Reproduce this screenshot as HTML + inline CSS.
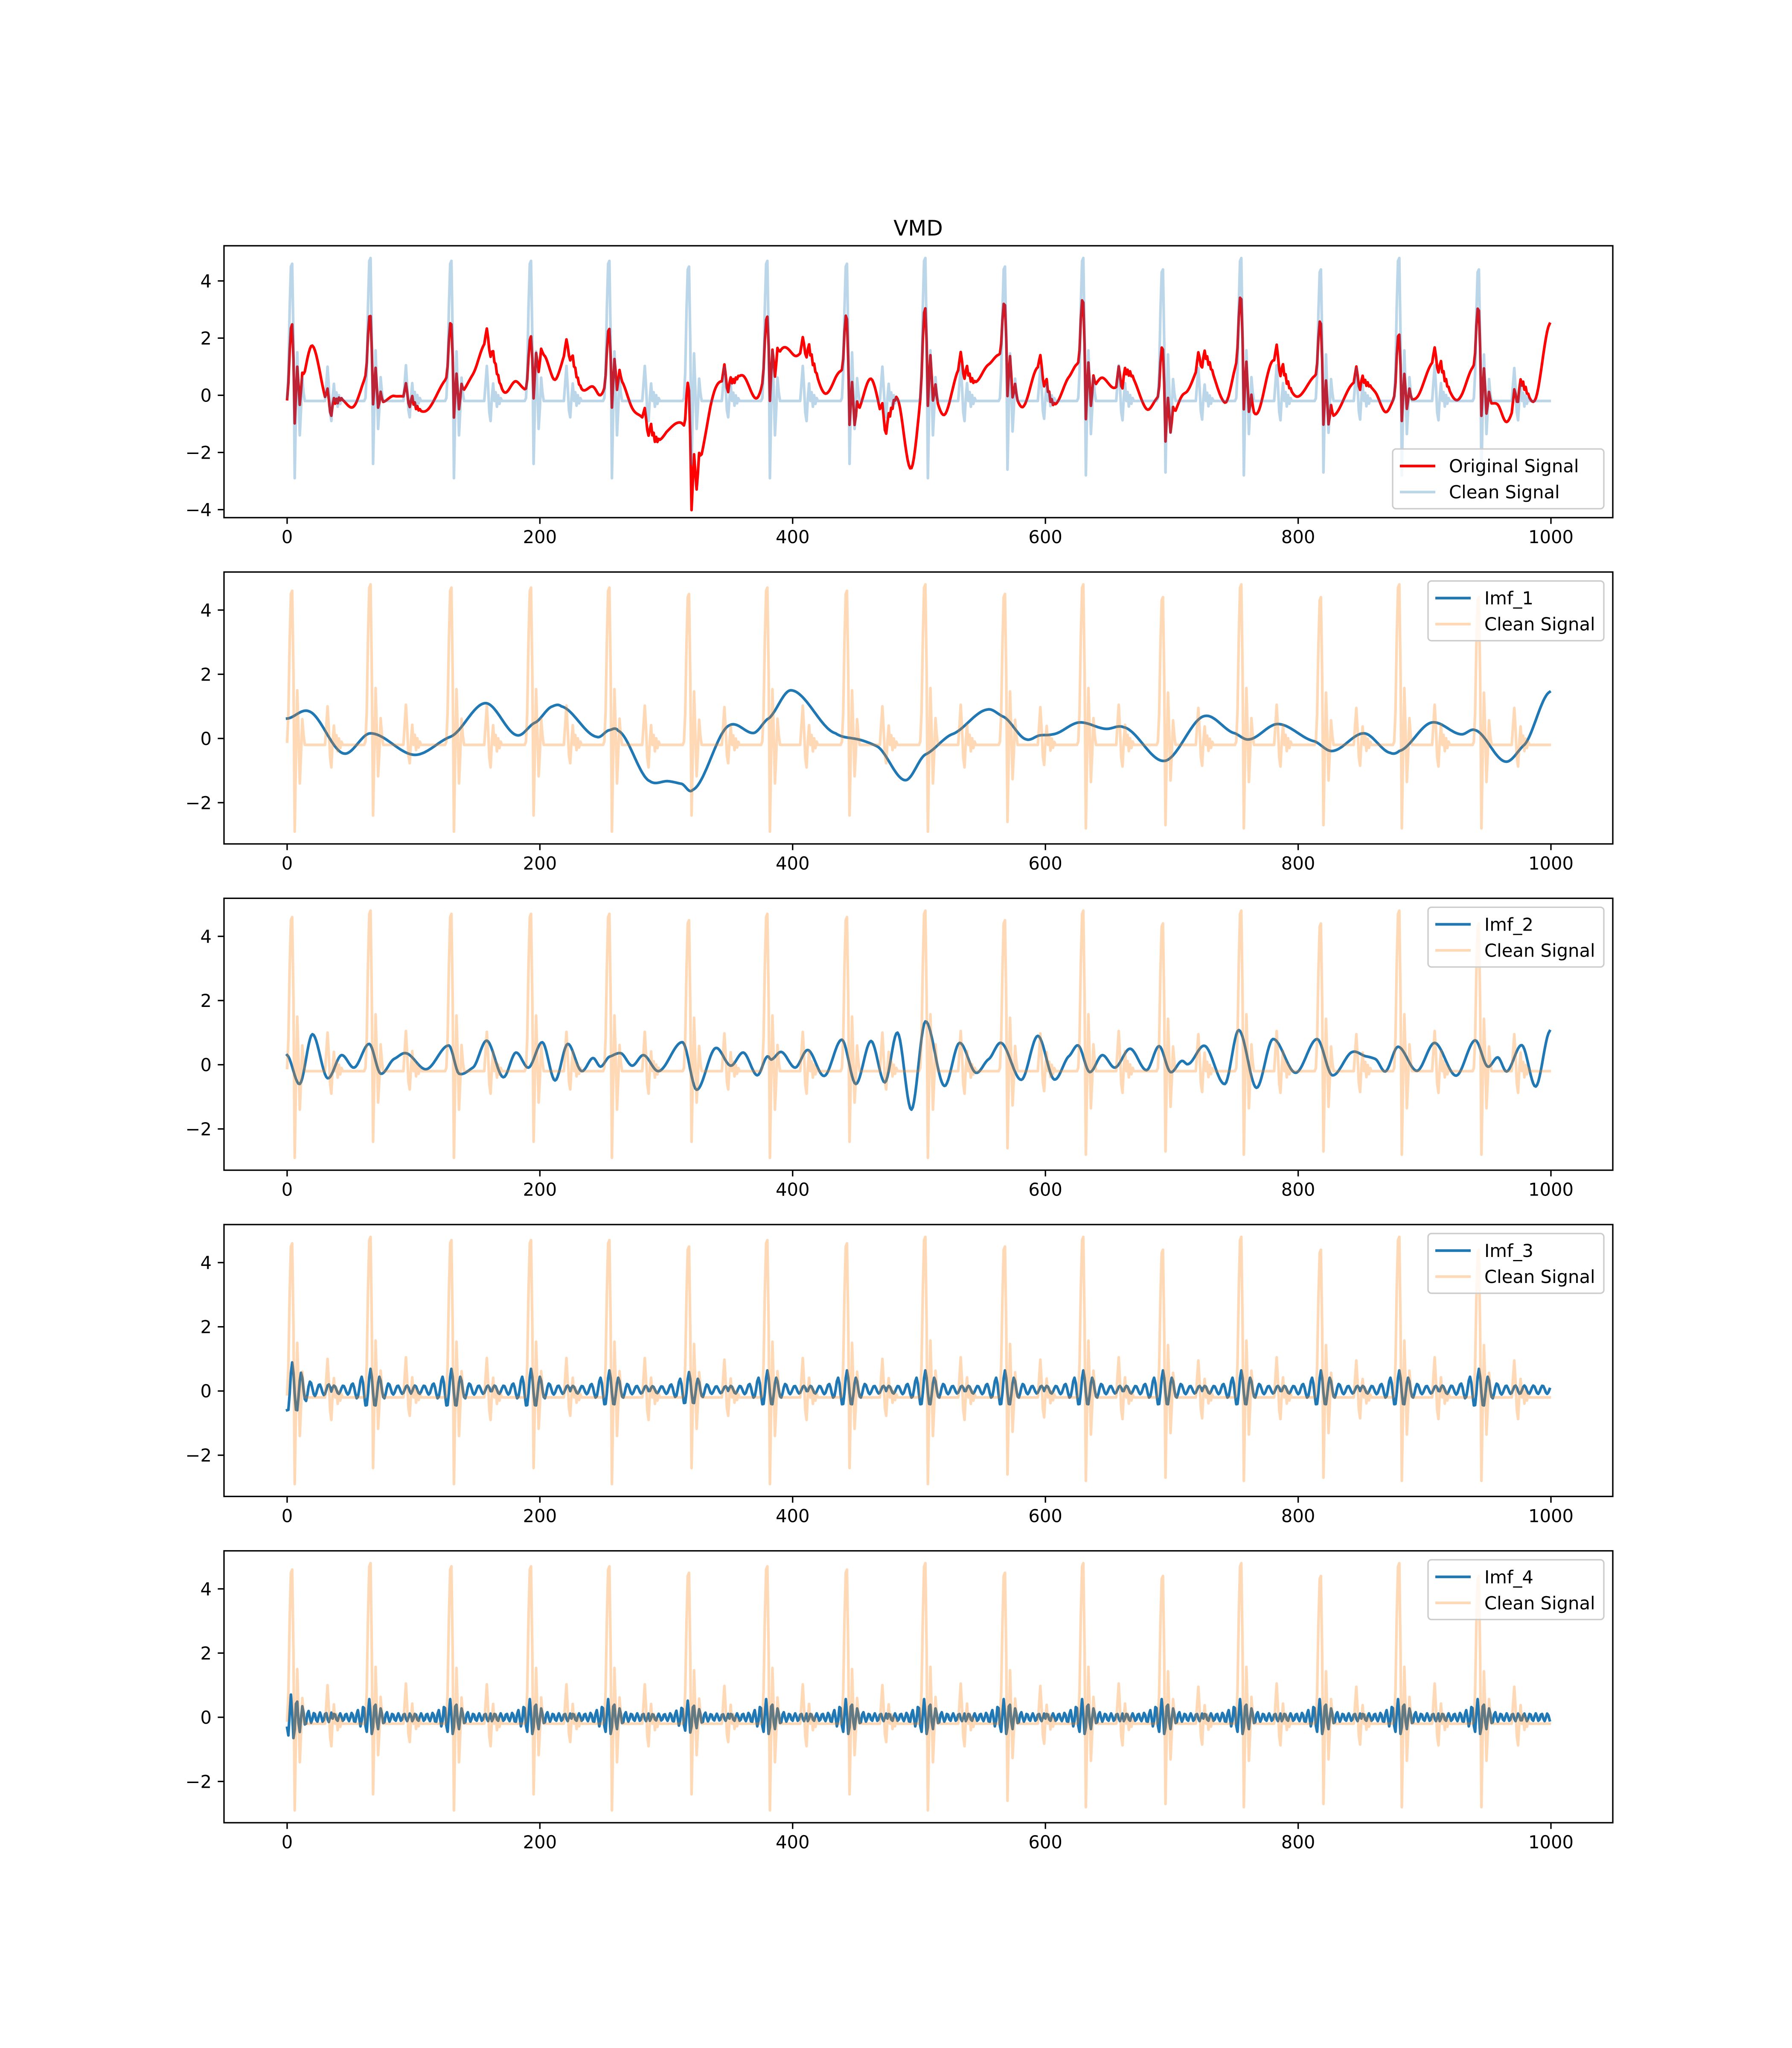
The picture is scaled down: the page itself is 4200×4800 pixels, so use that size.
<!DOCTYPE html>
<html><head><meta charset="utf-8">
<style>
html,body{margin:0;padding:0;background:#fff;}
svg{display:block;font-family:"DejaVu Sans","Liberation Sans",sans-serif;}
</style></head>
<body>
<svg id="fig" width="4200" height="4800" viewBox="0 0 4200 4800" xmlns="http://www.w3.org/2000/svg">
<rect width="4200" height="4800" fill="#fff"/>
<text x="2152" y="552" font-size="50" text-anchor="middle">VMD</text>
</svg>
<script>
// ---- data ----
const beatPos = [4,66,130,193,255,318,380,443,505,568,630,693,755,818,880,943];
const beatPeak = [4.6,4.8,4.7,4.7,4.7,4.5,4.7,4.6,4.8,4.5,4.8,4.4,4.8,4.4,4.8,4.4];
const beatTrough = [-2.9,-2.4,-2.9,-2.4,-2.9,-2.4,-2.9,-2.4,-2.9,-2.6,-2.8,-2.7,-2.8,-2.7,-2.8,-2.8];
const tmplOff = [-5,-4,-3,-2,-1,0,1,2,3,4,5,6,7,8,9,10,26,27,28,29,30,31,32,33,34,35,36,37,38,39,40];
const tmplVal = [-0.2,-0.1,0.8,3.0,4.5,4.6,2.0,-2.9,-0.5,1.5,0.2,-1.4,-0.5,0.6,0.1,-0.2,-0.2,0.4,1.0,0.3,-0.6,-0.9,-0.1,0.4,-0.2,0.1,-0.4,0.0,-0.3,-0.1,-0.2];
const redPeak = [2.78,2.77,2.48,2.06,2.32,0.86,2.75,2.66,3.04,3.15,3.24,1.6,3.36,2.5,2.12,2.96];
const residX = [0,4,8,300,314,320,326,335,999];
const residY = [-1.1,-0.3,0,0,-0.3,-0.9,-0.3,0,0];
const imf1X = [0,17,45,66,101,129,157,182,196,210,217,245,255,262,287,301,312,321,350,369,380,399,434,448,466,489,505,526,554,566,585,596,606,627,648,662,694,726,750,761,784,813,827,852,873,880,906,929,940,964,978,999];
const imf1Y = [0.62,0.85,-0.47,0.16,-0.51,0.05,1.1,0.1,0.49,1.0,1.0,0.05,0.26,0.24,-1.33,-1.33,-1.41,-1.6,0.41,0.17,0.6,1.5,0.16,0,-0.23,-1.3,-0.5,0.13,0.9,0.69,-0.03,0.1,0.13,0.5,0.3,0.35,-0.7,0.7,0.16,-0.03,0.45,-0.09,-0.39,0.16,-0.45,-0.39,0.5,0.13,0.26,-0.72,-0.23,1.45];
const imf2X = [0,10,20,32,43,53,65,74,85,94,110,128,136,147,158,171,181,191,202,212,222,233,242,248,255,264,273,282,294,313,324,339,351,361,372,380,383,391,402,412,425,439,450,462,473,483,494,505,520,532,545,555,565,581,594,607,619,626,635,645,655,667,680,690,699,708,713,726,742,753,767,780,798,815,827,843,854,861,869,879,894,908,925,940,950,958,965,977,988,999];
const imf2Y = [0.3,-0.6,0.95,-0.42,0.3,-0.09,0.65,-0.28,0.19,0.36,-0.14,0.6,-0.28,-0.09,0.75,-0.39,0.38,-0.09,0.7,-0.49,0.65,-0.2,0.21,-0.06,0.25,0.36,-0.03,0.3,-0.2,0.7,-0.78,0.52,-0.03,0.38,-0.33,0.26,0.16,0.4,-0.09,0.46,-0.35,0.78,-0.6,0.74,-0.55,1.0,-1.4,1.35,-0.66,0.68,-0.25,0.17,0.68,-0.47,0.9,-0.46,0.28,0.6,-0.23,0.3,-0.09,0.5,-0.17,0.58,-0.23,0.12,0.02,0.59,-0.6,1.08,-0.72,0.8,-0.25,0.8,-0.33,0.4,0.26,0.18,-0.21,0.56,-0.19,0.68,-0.34,0.76,-0.06,0.23,-0.21,0.61,-0.68,1.05];
const imf3Amp = [0.85,0.65,0.65,0.65,0.6,0.55,0.6,0.6,0.6,0.6,0.6,0.6,0.6,0.6,0.6,0.65];
const imf4Amp = [0.75,0.6,0.6,0.6,0.6,0.55,0.6,0.6,0.6,0.6,0.6,0.6,0.6,0.6,0.6,0.6];
const decayOff = [0,5,10,15,20,30,40];
const decayVal = [1,0.75,0.45,0.28,0.2,0.2,0.2];
const xTicks = [0,200,400,600,800,1000];
const yTicksTop = [-4,-2,0,2,4];
const yTicksRest = [-2,0,2,4];

// ---- helpers ----
const N = 1000;
function interpKeys(X, Y){
  const out = new Array(N);
  for(let s=0;s<N;s++){
    let i=0; while(i<X.length-2 && X[i+1]<s) i++;
    const x0=X[i],x1=X[i+1],y0=Y[i],y1=Y[i+1];
    const ym=i>0?Y[i-1]:y0, yp=i+2<Y.length?Y[i+2]:y1;
    const t=Math.min(1,Math.max(0,(s-x0)/(x1-x0)));
    const m0=(y1-ym)/2*0.5, m1=(yp-y0)/2*0.5;
    const t2=t*t,t3=t2*t;
    out[s]=(2*t3-3*t2+1)*y0+(t3-2*t2+t)*m0+(-2*t3+3*t2)*y1+(t3-t2)*m1;
  }
  return out;
}
function lin(X,Y,v){
  if(v<=X[0]) return Y[0];
  for(let i=0;i<X.length-1;i++) if(v<=X[i+1]) return Y[i]+(Y[i+1]-Y[i])*(v-X[i])/(X[i+1]-X[i]);
  return Y[Y.length-1];
}
const clean = new Array(N).fill(-0.2);
const spike = new Array(N).fill(0);
beatPos.forEach((r,b)=>{
  for(let k=0;k<tmplOff.length;k++){
    const s=r+tmplOff[k]; if(s<0||s>=N) continue;
    const d=tmplVal[k]+0.2;
    const sc = d>=0 ? (beatPeak[b]+0.2)/4.8 : (beatTrough[b]+0.2)/(-2.7);
    clean[s]=-0.2+d*sc;
  }
  for(let o=tmplOff[0];o<=40;o++){const s=r+o; if(s>=0&&s<N){ spike[s]=clean[s]+0.2; } }
});
const imf1 = interpKeys(imf1X, imf1Y);
const imf2 = interpKeys(imf2X, imf2Y);
function nearestBeat(s){let bi=0;for(let b=0;b<beatPos.length;b++) if(Math.abs(beatPos[b]-s)<Math.abs(beatPos[bi]-s)) bi=b; return bi;}
const imf3 = [], imf4 = [];
for(let s=0;s<N;s++){
  const b=nearestBeat(s), d=s-beatPos[b];
  imf3.push(imf3Amp[b]*lin(decayOff,decayVal,Math.abs(d))*Math.cos(2*Math.PI*d/7.2)+0.04);
  imf4.push(imf4Amp[b]*lin(decayOff,decayVal,Math.abs(d)*1.2)*Math.cos(2*Math.PI*(d+1)/4.6));
}
const orig = [];
for(let s=0;s<N;s++){
  const b=nearestBeat(s), r=beatPos[b];
  const low=imf1[Math.max(0,Math.min(N-1,r))]+imf2[Math.max(0,Math.min(N-1,r))];
  const k=Math.max(0.2,(redPeak[b]-low)/(beatPeak[b]+0.2));
  orig.push(imf1[s]+imf2[s]+k*spike[s]+lin(residX,residY,s));
}

// ---- layout ----
const svg=document.getElementById('fig');
const NS='http://www.w3.org/2000/svg';
const L=525,R=3780,H=637.24,GAP=127.45,TOP=576;
const xMin=-49.95,xMax=1048.95;
function mk(tag,attrs,parent){const e=document.createElementNS(NS,tag);for(const k in attrs)e.setAttribute(k,attrs[k]);(parent||svg).appendChild(e);return e;}
const sx=v=>L+(v-xMin)/(xMax-xMin)*(R-L);

const panels=[
 {name:'original',yMin:-4.28,yMax:5.23,ticks:yTicksTop,series:[{d:orig,c:'#ff0000',o:1,label:'Original Signal'},{d:clean,c:'#1f77b4',o:0.3,label:'Clean Signal'}],legendLow:true},
 {name:'imf-1',yMin:-3.285,yMax:5.185,ticks:yTicksRest,series:[{d:imf1,c:'#1f77b4',o:1,label:'Imf_1'},{d:clean,c:'#ff7f0e',o:0.3,label:'Clean Signal'}]},
 {name:'imf-2',yMin:-3.285,yMax:5.185,ticks:yTicksRest,series:[{d:imf2,c:'#1f77b4',o:1,label:'Imf_2'},{d:clean,c:'#ff7f0e',o:0.3,label:'Clean Signal'}]},
 {name:'imf-3',yMin:-3.285,yMax:5.185,ticks:yTicksRest,series:[{d:imf3,c:'#1f77b4',o:1,label:'Imf_3'},{d:clean,c:'#ff7f0e',o:0.3,label:'Clean Signal'}]},
 {name:'imf-4',yMin:-3.285,yMax:5.185,ticks:yTicksRest,series:[{d:imf4,c:'#1f77b4',o:1,label:'Imf_4'},{d:clean,c:'#ff7f0e',o:0.3,label:'Clean Signal'}]},
];

panels.forEach((p,i)=>{
  const top=TOP+i*(H+GAP), bot=top+H;
  const sy=v=>bot-(v-p.yMin)/(p.yMax-p.yMin)*H;
  const g=mk('g',{});
  
  
  const cp=mk('clipPath',{id:'clip'+i},g);
  mk('rect',{x:L,y:top,width:R-L,height:H},cp);
  const lines=mk('g',{'clip-path':'url(#clip'+i+')'},g);
  p.series.forEach((se,j)=>{
    let pts='';
    for(let s=0;s<se.d.length;s++) pts+=sx(s).toFixed(1)+','+sy(se.d[s]).toFixed(1)+' ';
    const pl=mk('polyline',{points:pts,fill:'none',stroke:se.c,'stroke-opacity':se.o,'stroke-width':6.25,'stroke-linejoin':'round','stroke-linecap':'square'},lines);
    
    
  });
  xTicks.forEach(t=>{
    const x=sx(t);
    mk('line',{x1:x,x2:x,y1:bot,y2:bot+14.6,stroke:'#000','stroke-width':3.3},g);
    const tx=mk('text',{x:x,y:bot+60,'font-size':41.7,'text-anchor':'middle'},g);
    tx.textContent=t;
    
    
  });
  p.ticks.forEach(t=>{
    const y=sy(t);
    mk('line',{x1:L-14.6,x2:L,y1:y,y2:y,stroke:'#000','stroke-width':3.3},g);
    const tx=mk('text',{x:L-29,y:y+15,'font-size':41.7,'text-anchor':'end'},g);
    tx.textContent=t<0?'\u2212'+Math.abs(t):t;
    
    
  });
  mk('rect',{x:L,y:top,width:R-L,height:H,fill:'none',stroke:'#000','stroke-width':3.3},g);
  const lw = p.legendLow?495:412;
  const lh = 140;
  const lx = R-21-lw;
  const ly = p.legendLow? bot-21-lh : top+21;
  const lg=mk('g',{},g);
  
  
  mk('rect',{x:lx,y:ly,width:lw,height:lh,rx:8,fill:'#fff','fill-opacity':0.8,stroke:'#cccccc','stroke-width':3.3},lg);
  p.series.forEach((se,j)=>{
    const cy=ly+40+j*61;
    mk('line',{x1:lx+17,x2:lx+100,y1:cy,y2:cy,stroke:se.c,'stroke-opacity':se.o,'stroke-width':6.25},lg);
    const tx=mk('text',{x:lx+132,y:cy+15,'font-size':41.7},lg);
    tx.textContent=se.label;
    
    
  });
});
</script>
</body></html>
